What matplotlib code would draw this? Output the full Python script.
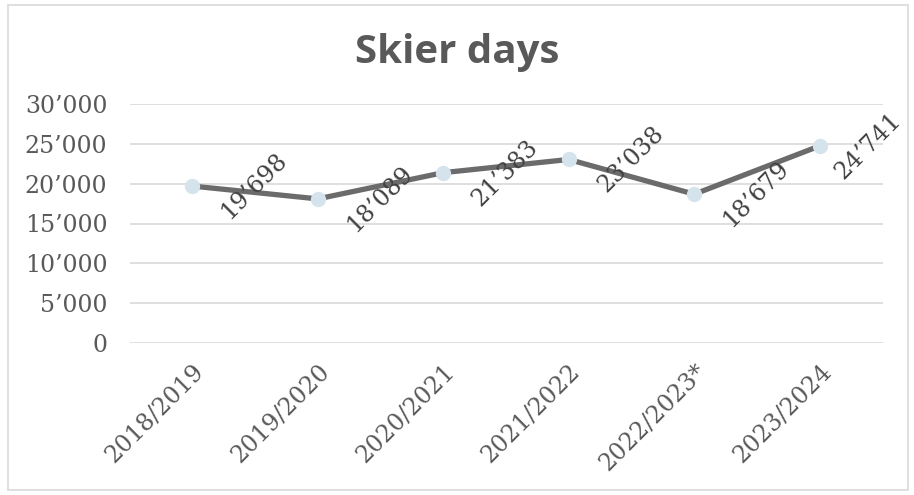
import matplotlib
matplotlib.use("Agg")
import matplotlib.pyplot as plt
from matplotlib.patches import Rectangle
from matplotlib.ticker import FuncFormatter, MultipleLocator
import matplotlib.transforms as mtransforms

seasons = ["2018/2019", "2019/2020", "2020/2021", "2021/2022", "2022/2023*", "2023/2024"]
skier_days = [19698, 18089, 21383, 23038, 18679, 24741]
title = "Skier days"

def fmt(v):
    return f"{int(v):,}".replace(",", "\u2019")

fig = plt.figure(figsize=(9.14, 4.95), dpi=100)
fig.patches.append(Rectangle((8/914, 5/495), 900/914, 485/495, transform=fig.transFigure,
                             fill=False, edgecolor="#d9d9d9", linewidth=1.2))

ax = fig.add_axes([129.5/914, 1 - 343/495, 753/914, 239/495])
x = list(range(len(seasons)))
ax.plot(x, skier_days, color="#6b6b6b", linewidth=3.8, marker="o", markersize=10,
        markerfacecolor="#d5e3ec", markeredgecolor="#d5e3ec", zorder=3)
ax.set_xlim(-0.5, len(seasons) - 0.5)
ax.set_ylim(0, 30000)
ax.yaxis.set_major_locator(MultipleLocator(5000))
ax.yaxis.set_major_formatter(FuncFormatter(lambda v, p: fmt(v)))
ax.grid(axis="y", color="#d9d9d9", linewidth=1.2)
ax.set_axisbelow(True)
for s in ax.spines.values():
    s.set_visible(False)
ax.tick_params(axis="y", length=0, labelsize=17, labelcolor="#595959", pad=16)
ax.tick_params(axis="x", length=0, labelcolor="#595959", pad=12)
ax.set_xticks(x)
ax.set_xticklabels(seasons, rotation=45, ha="right", rotation_mode="anchor", fontsize=17)
for lab in ax.get_xticklabels() + ax.get_yticklabels():
    lab.set_fontfamily("DejaVu Serif")

label_dx = [62, 62, 62, 62, 62, 48]
for xi, v, dx in zip(x, skier_days, label_dx):
    tr = mtransforms.offset_copy(ax.transData, fig=fig, x=dx, y=0, units="dots")
    ax.text(xi, v, fmt(v), transform=tr, rotation=45, ha="center", va="center",
            fontsize=17, color="#404040", family="DejaVu Serif", rotation_mode="anchor")

fig.text(0.5, 1 - 52/495, title, ha="center", va="center", fontsize=29,
         fontweight="bold", color="#595959", family="Open Sans")

fig.savefig("out.png", dpi=100)
